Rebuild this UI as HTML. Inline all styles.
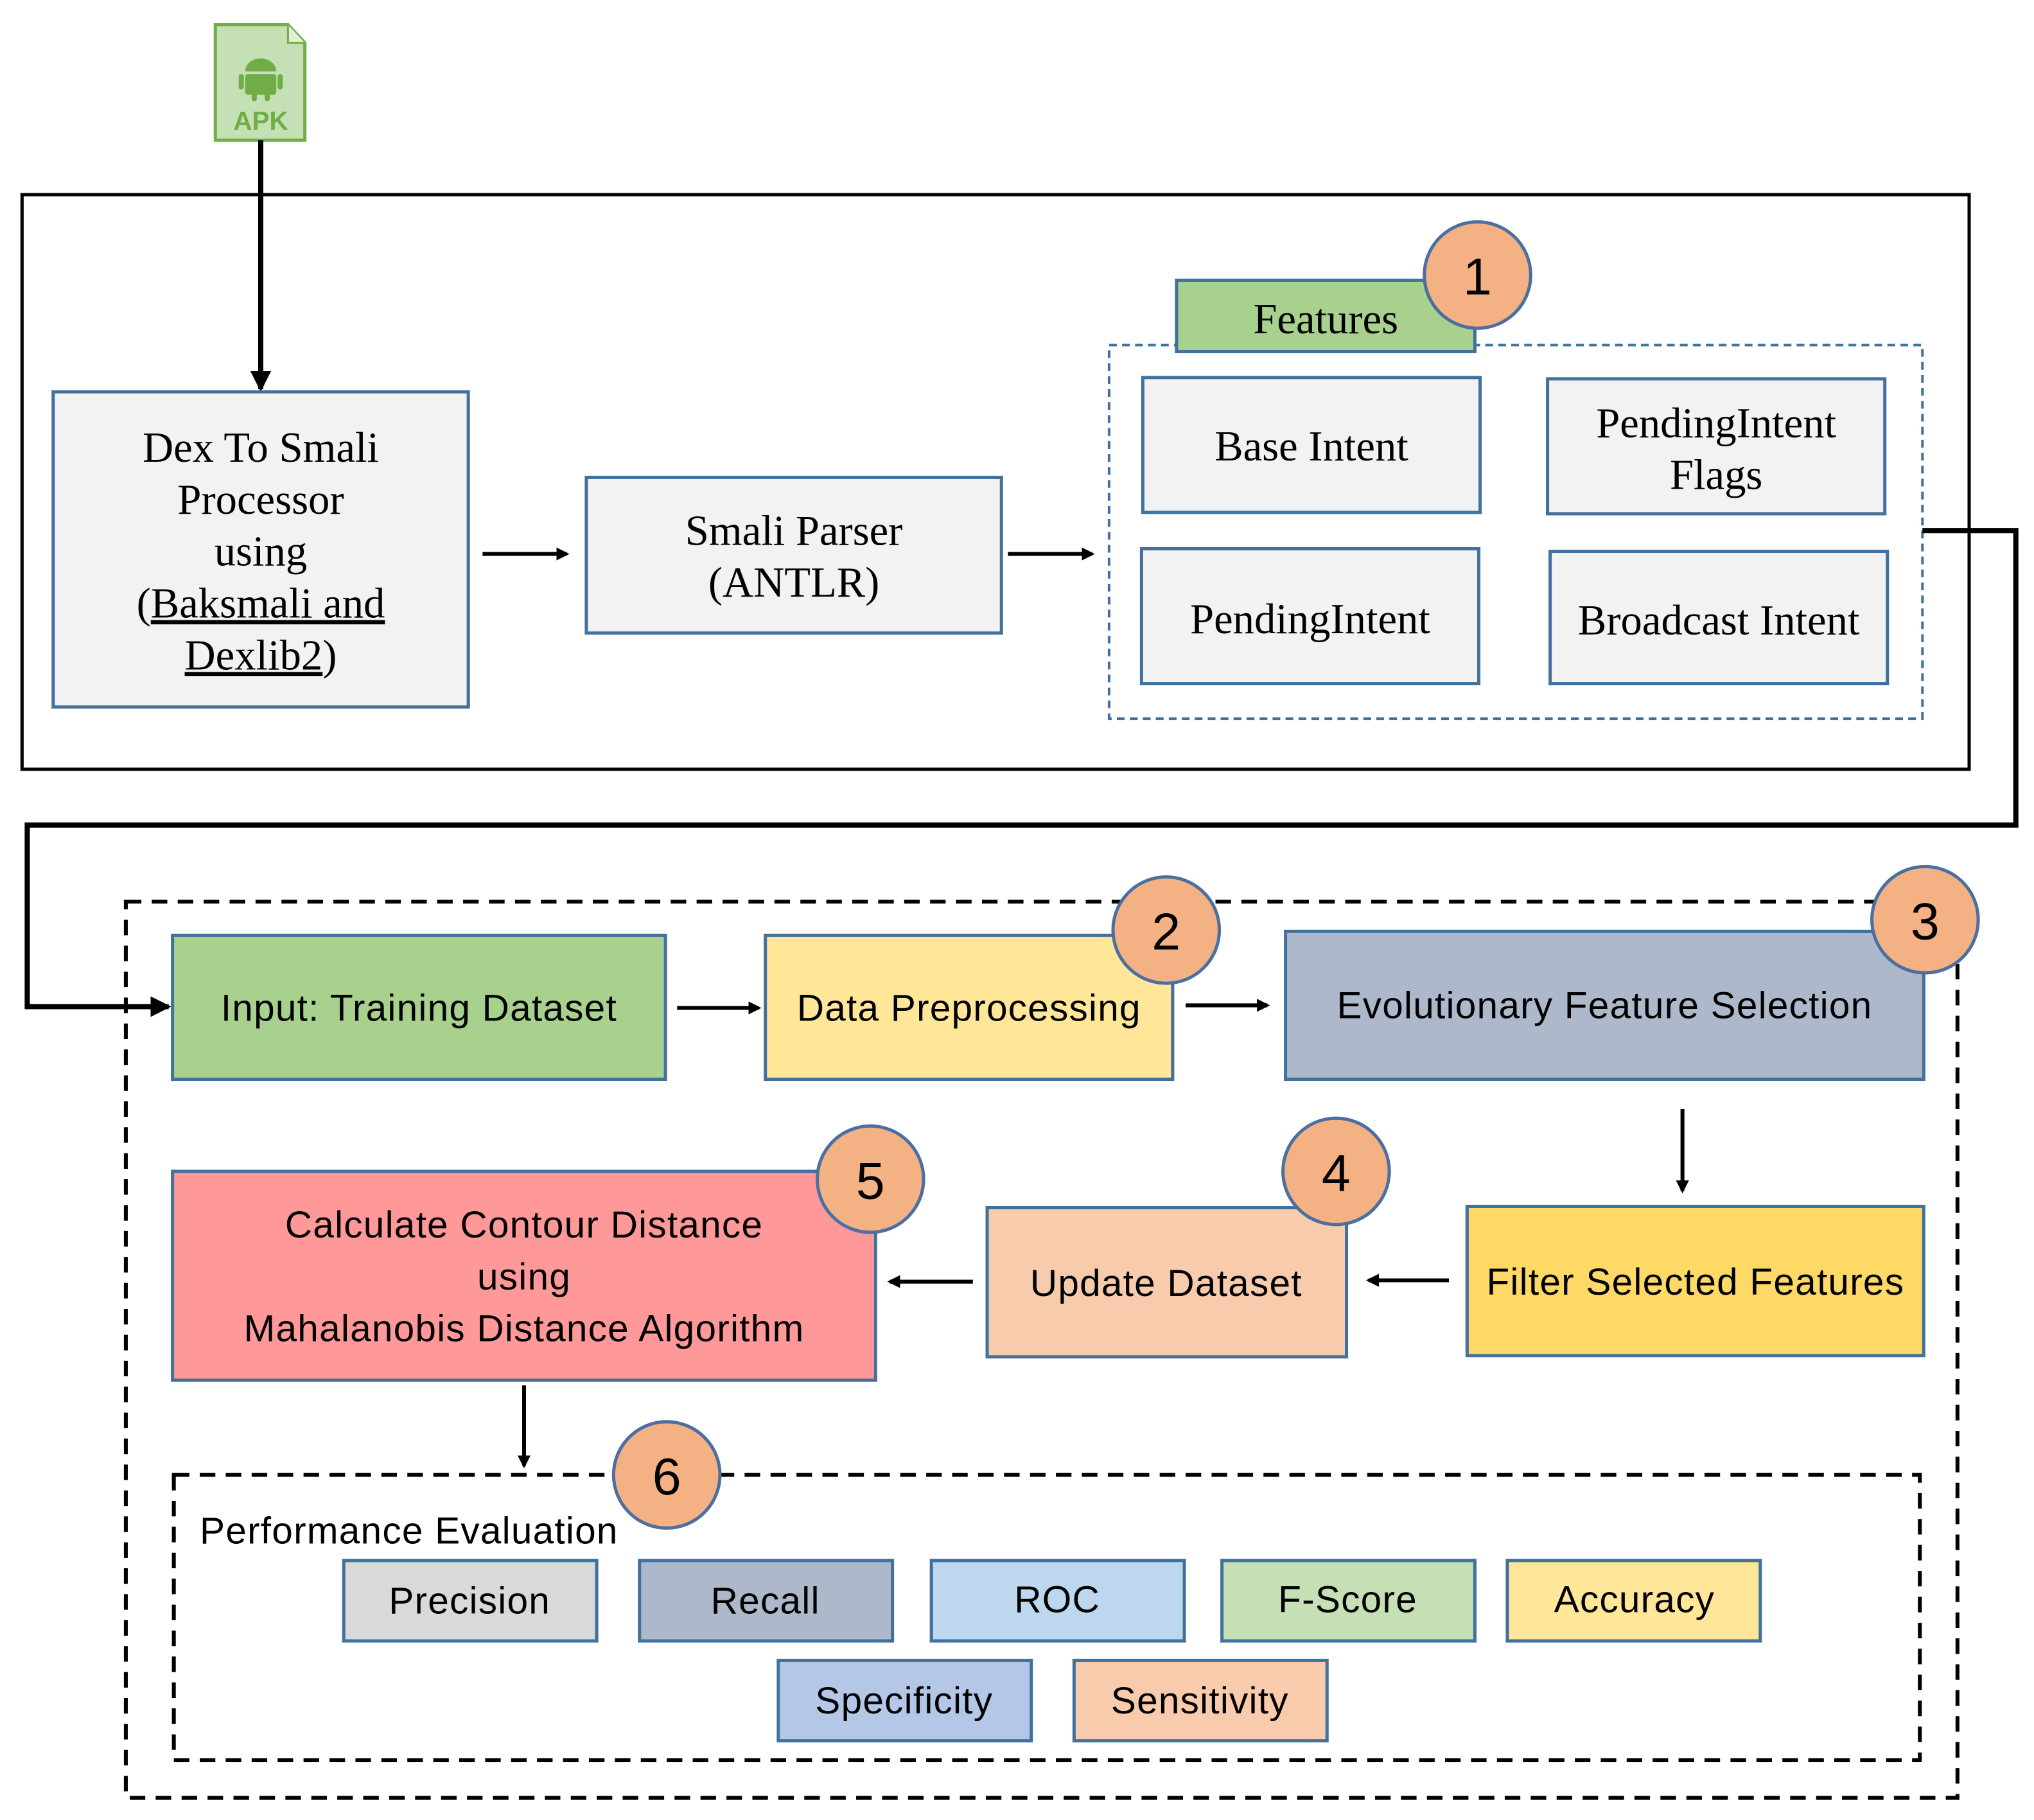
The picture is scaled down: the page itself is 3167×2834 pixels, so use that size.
<!DOCTYPE html>
<html><head><meta charset="utf-8"><style>
html,body{margin:0;padding:0;background:#fff;}
svg{display:block;}
.t{font-family:"Liberation Serif",serif;font-size:33px;fill:#000;text-anchor:middle;}
.s{font-family:"Liberation Sans",sans-serif;font-size:29px;letter-spacing:0.6px;fill:#000;text-anchor:middle;}
.n{font-family:"Liberation Sans",sans-serif;font-size:40px;fill:#000;text-anchor:middle;}
.box{stroke:#41719c;stroke-width:2.5;}
.c{fill:#f4b183;stroke:#4a6fa0;stroke-width:2.5;}
</style></head><body>
<svg width="3167" height="2834" viewBox="0 0 1568 1403" xmlns="http://www.w3.org/2000/svg">
<defs>
<marker id="a" markerWidth="10" markerHeight="10" refX="8" refY="5" orient="auto" markerUnits="userSpaceOnUse"><path d="M0,0 L10,5 L0,10 z" fill="#000"/></marker>
<marker id="b" markerWidth="16" markerHeight="16" refX="14" refY="8" orient="auto" markerUnits="userSpaceOnUse"><path d="M0,0 L16,8 L0,16 z" fill="#000"/></marker>
</defs>
<rect width="1568" height="1403" fill="#fff"/>
<path d="M166,19 L222,19 L235,33 L235,108 L166,108 Z" fill="#c5e0b4" stroke="#70ad47" stroke-width="2.5"/>
<path d="M222,19 L222,33 L235,33" fill="#e2efd9" stroke="#70ad47" stroke-width="1.5"/>
<g fill="#70ad47">
<path d="M189,55 a12,10 0 0 1 24,0 z"/>
<rect x="189" y="57" width="24" height="16" rx="2"/>
<rect x="184" y="57" width="4" height="12" rx="2"/><rect x="214" y="57" width="4" height="12" rx="2"/>
<rect x="194" y="70" width="4" height="8" rx="2"/><rect x="204" y="70" width="4" height="8" rx="2"/>
</g>
<text x="201" y="100" font-family="Liberation Sans,sans-serif" font-weight="bold" font-size="20" fill="#70ad47" text-anchor="middle">APK</text>
<line x1="201" y1="108" x2="201" y2="300" stroke="#000" stroke-width="4" marker-end="url(#b)"/>
<rect x="17" y="150" width="1501" height="443" fill="none" stroke="#000" stroke-width="2.5"/>
<rect x="41" y="302" width="320" height="243" fill="#f2f2f2" class="box"/>
<text class="t" x="201" y="356">Dex To Smali</text>
<text class="t" x="201" y="396">Processor</text>
<text class="t" x="201" y="436">using</text>
<text class="t" x="201" y="476">(<tspan text-decoration="underline">Baksmali and</tspan></text>
<text class="t" x="201" y="516"><tspan text-decoration="underline">Dexlib2</tspan>)</text>
<line x1="372" y1="427" x2="437" y2="427" stroke="#000" stroke-width="3" marker-end="url(#a)"/>
<rect x="452" y="368" width="320" height="120" fill="#f2f2f2" class="box"/>
<text class="t" x="612" y="420">Smali Parser</text>
<text class="t" x="612" y="460">(ANTLR)</text>
<line x1="777" y1="427" x2="842" y2="427" stroke="#000" stroke-width="3" marker-end="url(#a)"/>
<rect x="855" y="266" width="627" height="288" fill="none" stroke="#41719c" stroke-width="2" stroke-dasharray="6,4"/>
<rect x="907" y="216" width="230" height="55" fill="#a9d18e" class="box"/>
<text class="t" x="1022" y="257">Features</text>
<circle class="c" cx="1139" cy="212" r="41"/>
<text class="n" x="1139" y="227">1</text>
<rect x="881" y="291" width="260" height="104" fill="#f2f2f2" class="box"/>
<text class="t" x="1011" y="355">Base Intent</text>
<rect x="1193" y="292" width="260" height="104" fill="#f2f2f2" class="box"/>
<text class="t" x="1323" y="337">PendingIntent</text>
<text class="t" x="1323" y="377">Flags</text>
<rect x="880" y="423" width="260" height="104" fill="#f2f2f2" class="box"/>
<text class="t" x="1010" y="488">PendingIntent</text>
<rect x="1195" y="425" width="260" height="102" fill="#f2f2f2" class="box"/>
<text class="t" x="1325" y="489">Broadcast Intent</text>
<polyline points="1482,409 1554,409 1554,636 21,636 21,776 130,776" fill="none" stroke="#000" stroke-width="4" marker-end="url(#b)"/>
<rect x="97" y="695" width="1412" height="691" fill="none" stroke="#000" stroke-width="3" stroke-dasharray="12,8"/>
<rect x="133" y="721" width="380" height="111" fill="#a9d18e" class="box"/>
<text class="s" x="323" y="787">Input: Training Dataset</text>
<line x1="522" y1="777" x2="585" y2="777" stroke="#000" stroke-width="3" marker-end="url(#a)"/>
<rect x="590" y="721" width="314" height="111" fill="#ffe699" class="box"/>
<text class="s" x="747" y="787">Data Preprocessing</text>
<circle class="c" cx="899" cy="717" r="41"/><text class="n" x="899" y="732">2</text>
<line x1="914" y1="775" x2="977" y2="775" stroke="#000" stroke-width="3" marker-end="url(#a)"/>
<rect x="991" y="718" width="492" height="114" fill="#adb9ca" class="box"/>
<text class="s" x="1237" y="785">Evolutionary Feature Selection</text>
<circle class="c" cx="1484" cy="709" r="41"/><text class="n" x="1484" y="724">3</text>
<line x1="1297" y1="855" x2="1297" y2="918" stroke="#000" stroke-width="3" marker-end="url(#a)"/>
<rect x="1131" y="930" width="352" height="115" fill="#ffd966" class="box"/>
<text class="s" x="1307" y="998">Filter Selected Features</text>
<line x1="1117" y1="987" x2="1055" y2="987" stroke="#000" stroke-width="3" marker-end="url(#a)"/>
<rect x="761" y="931" width="277" height="115" fill="#f8cbad" class="box"/>
<text class="s" x="899" y="999">Update Dataset</text>
<circle class="c" cx="1030" cy="903" r="41"/><text class="n" x="1030" y="918">4</text>
<line x1="750" y1="988" x2="686" y2="988" stroke="#000" stroke-width="3" marker-end="url(#a)"/>
<rect x="133" y="903" width="542" height="161" fill="#ff9999" class="box"/>
<text class="s" x="404" y="954">Calculate Contour Distance</text>
<text class="s" x="404" y="994">using</text>
<text class="s" x="404" y="1034">Mahalanobis Distance Algorithm</text>
<circle class="c" cx="671" cy="909" r="41"/><text class="n" x="671" y="924">5</text>
<line x1="404" y1="1068" x2="404" y2="1130" stroke="#000" stroke-width="3" marker-end="url(#a)"/>
<rect x="134" y="1137" width="1346" height="220" fill="none" stroke="#000" stroke-width="3" stroke-dasharray="12,8"/>
<circle class="c" cx="514" cy="1137" r="41"/><text class="n" x="514" y="1152">6</text>
<text class="s" x="154" y="1190" style="text-anchor:start">Performance Evaluation</text>
<rect x="265" y="1203" width="195" height="62" fill="#d9d9d9" class="box"/><text class="s" x="362" y="1244">Precision</text>
<rect x="493" y="1203" width="195" height="62" fill="#adb9ca" class="box"/><text class="s" x="590" y="1244">Recall</text>
<rect x="718" y="1203" width="195" height="62" fill="#bdd7ee" class="box"/><text class="s" x="815" y="1243">ROC</text>
<rect x="942" y="1203" width="195" height="62" fill="#c5e0b4" class="box"/><text class="s" x="1039" y="1243">F-Score</text>
<rect x="1162" y="1203" width="195" height="62" fill="#ffe699" class="box"/><text class="s" x="1260" y="1243">Accuracy</text>
<rect x="600" y="1280" width="195" height="62" fill="#b4c7e7" class="box"/><text class="s" x="697" y="1321">Specificity</text>
<rect x="828" y="1280" width="195" height="62" fill="#f8cbad" class="box"/><text class="s" x="925" y="1321">Sensitivity</text>
</svg>
</body></html>
